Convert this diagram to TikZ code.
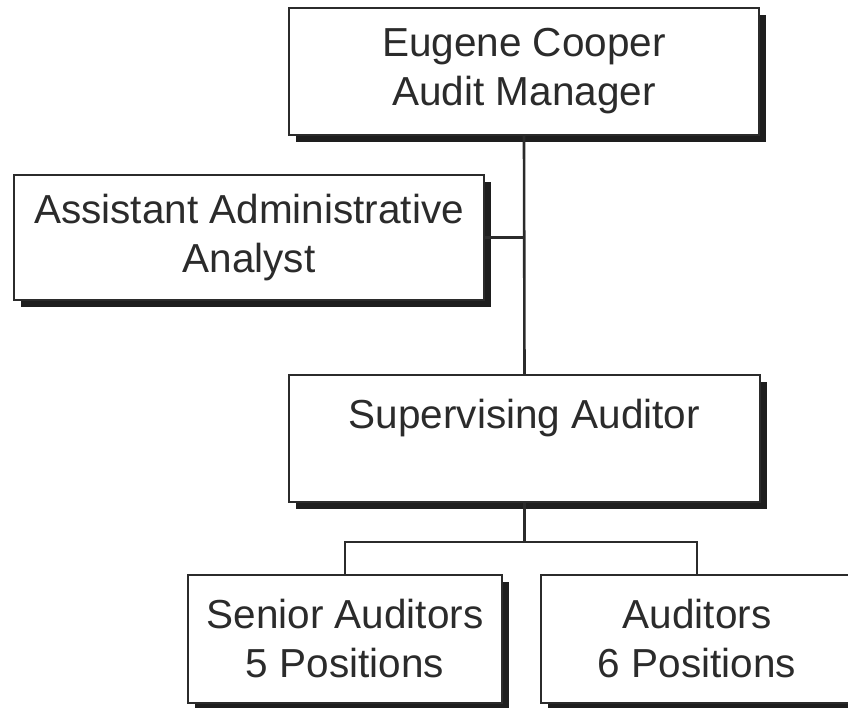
\documentclass[tikz,border=0pt]{standalone}
\usepackage{fontspec}
\setmainfont{Liberation Sans}
\usetikzlibrary{shadows}
\definecolor{inkgray}{HTML}{2B2B2B}
\definecolor{shadowgray}{HTML}{1E1E1E}
\tikzset{
  orgbox/.style={draw=inkgray, line width=1pt, fill=white, align=center,
    text=inkgray, inner sep=0pt,
    font=\fontsize{20.25}{24.5}\selectfont,
    drop shadow={shadow xshift=3.5pt, shadow yshift=-3.5pt, fill=shadowgray, opacity=1}},
  orgline/.style={draw=inkgray, line width=1.3pt}
}
\begin{document}
\begin{tikzpicture}[x=0.5pt,y=0.5pt,yscale=-1,xscale=1]
\useasboundingbox (0,0) rectangle (848,708);

% Boxes
\node [orgbox, minimum width=235pt, minimum height=63.5pt] (mgr) at (524,71.5) {Eugene Cooper\\Audit Manager};
\node [orgbox, minimum width=235pt, minimum height=62.5pt] (asst) at (249,237.5) {Assistant Administrative\\Analyst};
\node [orgbox, minimum width=235.5pt, minimum height=63.5pt] (sup) at (524.5,438.5) {Supervising Auditor\\~};
\node [orgbox, minimum width=157pt, minimum height=64pt] (senior) at (345,639) {Senior Auditors\\5 Positions};
\node [orgbox, minimum width=156pt, minimum height=64pt] (aud) at (697,639) {Auditors\\6 Positions};

% Connectors
\coordinate (fork) at (524.5,542);
\draw [orgline] (mgr.south) -- (sup.north);
\draw [orgline] (asst.east) -- (asst.east -| mgr.south);
\draw [orgline] (sup.south) -- (fork);
\draw [orgline] (senior.north) |- (fork) -| (aud.north);
\end{tikzpicture}
\end{document}
